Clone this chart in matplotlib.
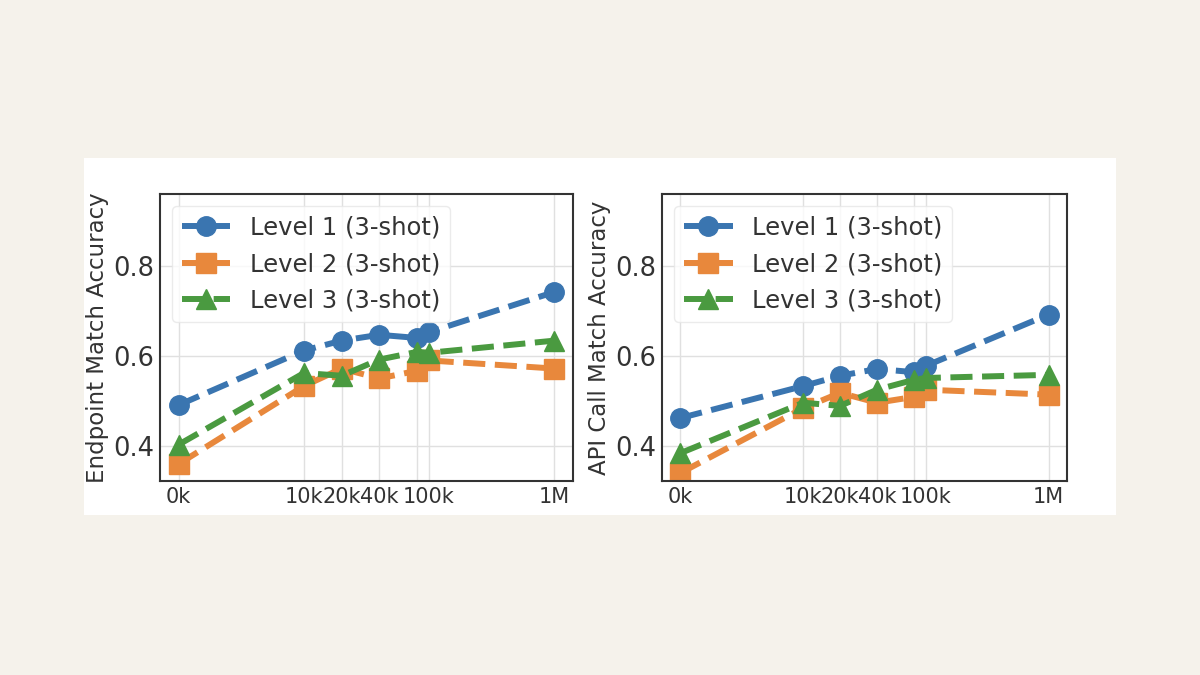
import numpy as np
import matplotlib
matplotlib.use("Agg")
import matplotlib.pyplot as plt
from matplotlib.patches import Rectangle

plt.rcParams['font.family']     = "DejaVu Sans"
plt.rcParams['axes.linewidth']  = 1.5
plt.rcParams['axes.edgecolor']  = "#333333"
plt.rcParams['text.color']      = "#333333"
plt.rcParams['axes.labelcolor'] = "#333333"
plt.rcParams['xtick.color']     = "#333333"
plt.rcParams['ytick.color']     = "#333333"

# data
sizes       = [0, 10000, 20000, 40000, 80000, 100000, 1000000]
size_labels = ["0k", "10k", "20k", "40k", "", "100k", "1M"]

endpoint_l1 = [0.491, 0.612, 0.634, 0.647, 0.640, 0.653, 0.742]
endpoint_l2 = [0.360, 0.533, 0.572, 0.550, 0.567, 0.590, 0.572]
endpoint_l3 = [0.403, 0.562, 0.556, 0.592, 0.609, 0.607, 0.634]

api_l1 = [0.462, 0.533, 0.556, 0.571, 0.564, 0.578, 0.692]
api_l2 = [0.340, 0.484, 0.518, 0.496, 0.509, 0.525, 0.514]
api_l3 = [0.384, 0.496, 0.489, 0.525, 0.547, 0.551, 0.558]

names   = ["Level 1 (3-shot)", "Level 2 (3-shot)", "Level 3 (3-shot)"]
markers = ["o", "s", "^"]
colors  = ["#3a75b0", "#e8883c", "#4a9a40"]

fig = plt.figure(figsize=[12, 6.75], dpi=100, facecolor="#f5f2eb")
fig.patches.append(Rectangle((0.07, 0.237), 0.86, 0.529, transform=fig.transFigure,
                             facecolor="white", edgecolor="none", zorder=-10))

ax1 = fig.add_axes([0.1333, 0.2874, 0.3442, 0.4252])
ax2 = fig.add_axes([0.5517, 0.2874, 0.3375, 0.4252])

panels = [(ax1, [endpoint_l1, endpoint_l2, endpoint_l3], "Endpoint Match Accuracy"),
          (ax2, [api_l1, api_l2, api_l3], "API Call Match Accuracy")]

for ax, series, ylab in panels:
    ax.set_facecolor("white")
    for vals, name, mk, c in zip(series, names, markers, colors):
        ax.plot(sizes, vals, linestyle="--", linewidth=4.3, marker=mk, markersize=14,
                color=c, label=name)
    ax.set_xscale("symlog", linthresh=10000, linscale=0.9)
    ax.set_xticks(sizes)
    ax.set_xticklabels(size_labels, fontsize=15)
    ax.xaxis.set_minor_locator(matplotlib.ticker.NullLocator())
    ax.set_ylim(0.322, 0.96)
    ax.set_yticks([0.4, 0.6, 0.8])
    ax.set_yticklabels(["0.4", "0.6", "0.8"], fontsize=18.5)
    ax.tick_params(length=0, pad=4)
    ax.grid(True, color="#e0e0e0", linewidth=1.0)
    ax.set_axisbelow(True)
    ax.set_ylabel(ylab, fontsize=16.5, labelpad=3)
    leg = ax.legend(loc="upper left", fontsize=17.5, framealpha=0.8)
    leg.get_frame().set_edgecolor("#e6e6e6")

fig.savefig("out.png", dpi=100, facecolor=fig.get_facecolor())
